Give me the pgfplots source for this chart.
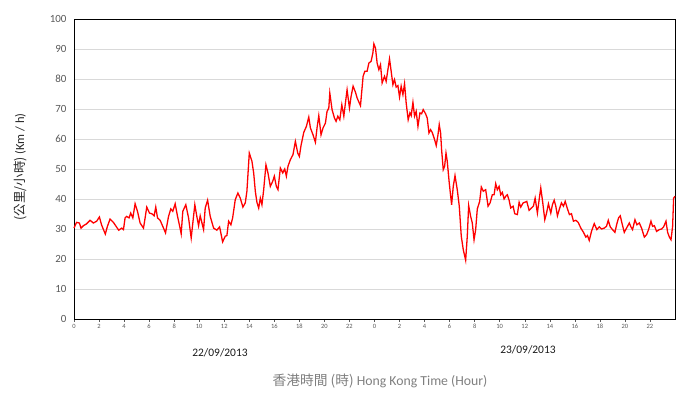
\documentclass[border=0pt]{standalone}
\usepackage{pgfplots}
\pgfplotsset{compat=1.18}
\usepackage{fontspec}
\setmainfont{Carlito}
\newfontfamily\cjk{Noto Sans CJK TC}
\definecolor{tickgray}{HTML}{595959}
\definecolor{labgray}{HTML}{7F7F7F}
\definecolor{gridgray}{HTML}{D9D9D9}
\begin{document}
\begin{tikzpicture}
\useasboundingbox (0,0) rectangle (700bp,399bp);
\begin{axis}[
  at={(74bp,80bp)}, anchor=south west,
  scale only axis, width=601bp, height=300bp,
  xmin=0, xmax=48, ymin=0, ymax=100,
  xtick={0,2,...,46},
  xticklabels={0,2,4,6,8,10,12,14,16,18,20,22,0,2,4,6,8,10,12,14,16,18,20,22},
  ytick={0,10,...,100},
  ymajorgrids, grid style={gridgray, line width=0.8pt},
  axis line style={black, line width=0.8pt},
  tick style={tickgray, line width=0.5pt},
  xtick pos=bottom, ytick pos=left,
  xtick align=outside, ytick style={draw=none},
  major tick length=3bp,
  x tick label style={font=\fontsize{6.5}{7}\selectfont, text=tickgray, yshift=1bp},
  y tick label style={font=\fontsize{11}{12}\selectfont, text=tickgray, xshift=-4bp},
  /pgf/number format/assume math mode=true,
  clip=false,
]
\addplot[red, line width=1.3pt] coordinates {
(0,30.3)(0.2,32.2)(0.43,32)(0.56,30.3)(0.75,31.1)(1.0,31.7)(1.28,32.9)(1.55,32)(1.81,32.6)(2.03,34)(2.2,31.4)(2.5,28.3)(2.67,30.9)(2.88,33.3)(3.15,32.2)(3.36,30.9)(3.57,29.6)(3.81,30.3)(3.95,29.8)(4.08,33.7)(4.2,34.2)(4.4,33.7)(4.53,35.3)(4.7,33.7)(4.88,38.4)(5.07,35.9)(5.28,32)(5.55,30.3)(5.68,33.7)(5.81,37.3)(6.03,35.3)(6.21,35.1)(6.4,34.4)(6.53,37.3)(6.67,33.7)(6.88,32.9)(7.15,30.3)(7.31,28.7)(7.55,34.2)(7.73,36.7)(7.89,35.9)(8.08,38.4)(8.27,34.2)(8.43,31.1)(8.56,28.4)(8.69,35.9)(8.93,38.1)(9.15,33.7)(9.36,27)(9.49,32)(9.65,38.1)(9.81,34.2)(9.95,31.1)(10.08,34.4)(10.35,29.8)(10.48,37)(10.67,39.6)(10.88,34.2)(11.15,30.3)(11.41,29.6)(11.63,30.7)(11.87,25.7)(12.08,27.6)(12.21,27.8)(12.35,32.6)(12.53,31.4)(12.67,33.7)(12.88,39.8)(13.09,42)(13.28,40.3)(13.49,37.3)(13.68,38.7)(13.81,42.6)(14.0,55.3)(14.21,52.6)(14.35,48.7)(14.48,42.6)(14.61,38.9)(14.75,37)(14.88,40.3)(15.01,38.1)(15.15,43.1)(15.33,51.4)(15.49,48.7)(15.68,44.2)(15.87,45.9)(16.0,47.6)(16.16,44.2)(16.29,43.1)(16.48,50.3)(16.67,48.7)(16.83,50)(16.96,47.6)(17.09,50.9)(17.28,53.1)(17.49,54.8)(17.68,59.2)(17.87,55.3)(18.0,54.2)(18.13,57.8)(18.35,62.2)(18.56,64.2)(18.75,67.3)(18.88,63.7)(19.09,61.4)(19.28,58.9)(19.41,63.7)(19.55,67.8)(19.73,61.4)(19.89,63.7)(20.08,65.3)(20.21,69.2)(20.35,70.3)(20.43,75.3)(20.61,69.8)(20.8,67)(20.93,65.9)(21.07,67.6)(21.23,66.4)(21.39,71.4)(21.55,67.6)(21.71,73.1)(21.81,76.4)(22.0,70.3)(22.13,74.2)(22.29,77.6)(22.48,75.6)(22.61,73.7)(22.88,71.1)(23.09,80.9)(23.23,82.6)(23.41,82.6)(23.55,85.3)(23.73,85.9)(23.87,88.7)(23.95,91.7)(24.08,90.3)(24.21,85.3)(24.35,83.1)(24.48,84.8)(24.61,78.7)(24.8,80.9)(24.93,79.2)(25.07,83.1)(25.2,86.7)(25.33,82.6)(25.47,78.1)(25.6,79.8)(25.73,77.3)(25.87,77.8)(26.0,74)(26.13,77.6)(26.27,74.8)(26.4,78.4)(26.53,72)(26.69,66.4)(26.83,68.7)(26.93,67.8)(27.07,72.2)(27.2,67.6)(27.33,69.2)(27.47,64.2)(27.63,68.7)(27.76,68.4)(27.89,69.8)(28.08,68.4)(28.21,67)(28.35,62)(28.48,63.1)(28.61,62.2)(28.8,59.8)(28.93,57.8)(29.07,61.4)(29.17,64.8)(29.28,62)(29.36,56.4)(29.49,49.8)(29.6,50.9)(29.71,55.3)(29.81,52.6)(29.97,45.3)(30.16,38.1)(30.29,44.2)(30.43,47.8)(30.61,43.1)(30.77,37.6)(30.93,27.6)(31.09,23.1)(31.28,19.6)(31.41,27.6)(31.52,37.8)(31.68,34.2)(31.81,32)(31.95,26.4)(32.08,29.8)(32.21,36.7)(32.4,39.2)(32.53,44)(32.69,42.6)(32.88,43.1)(33.07,37.6)(33.23,38.7)(33.41,41.4)(33.55,41.4)(33.68,45.1)(33.81,43.1)(33.95,44.2)(34.08,41.4)(34.21,42.2)(34.35,40)(34.48,40.9)(34.61,41.4)(34.75,39.6)(34.88,37)(35.07,37.6)(35.2,35.1)(35.41,34.8)(35.55,38.9)(35.68,37.3)(35.87,38.7)(36.0,38.9)(36.16,39.2)(36.35,36.2)(36.53,37)(36.69,37.6)(36.83,40.3)(37.01,35.3)(37.15,39.8)(37.28,43.7)(37.44,38.7)(37.6,33.1)(37.73,35.1)(37.89,38.4)(38.08,35.3)(38.21,38.1)(38.35,39.6)(38.48,37.6)(38.61,34.4)(38.77,36.7)(38.93,38.7)(39.09,37.6)(39.23,39.2)(39.41,36.7)(39.57,34.8)(39.73,35.1)(39.89,32.6)(40.08,32.9)(40.27,32.2)(40.48,30.3)(40.69,28.9)(40.88,27.3)(41.01,27.8)(41.15,26.2)(41.33,29.2)(41.55,31.8)(41.76,29.8)(41.95,30.7)(42.13,30)(42.35,30.3)(42.53,30.9)(42.67,32.9)(42.83,30.7)(43.01,29.8)(43.2,28.9)(43.36,31.8)(43.49,33.7)(43.63,34.4)(43.76,32)(43.95,28.9)(44.13,30.3)(44.35,32)(44.48,30.7)(44.61,29.8)(44.8,33.1)(44.96,31.4)(45.15,32)(45.33,30.3)(45.55,27.3)(45.73,28.1)(45.89,29.8)(46.08,32.6)(46.21,30.9)(46.35,31.1)(46.53,29.2)(46.75,29.8)(46.93,30)(47.09,30.7)(47.28,32.6)(47.41,28.9)(47.55,27.3)(47.68,26.4)(47.81,30.9)(47.89,40.3)(48.0,40.9)
};
\end{axis}
\node[font=\fontsize{11.5}{12}\selectfont, text=black!90] at (220bp,46bp) {22/09/2013};
\node[font=\fontsize{11.5}{12}\selectfont, text=black!90] at (528bp,49bp) {23/09/2013};
\node[font=\fontsize{13.8}{15}\selectfont, text=labgray] at (380bp,18bp) {{\cjk 香港時間 (時)} Hong Kong Time (Hour)};
\node[font=\fontsize{12.5}{14}\selectfont, text=black!85, rotate=90] at (20bp,232bp) {{\cjk (公里/小時)} (Km / h)};
\end{tikzpicture}
\end{document}
